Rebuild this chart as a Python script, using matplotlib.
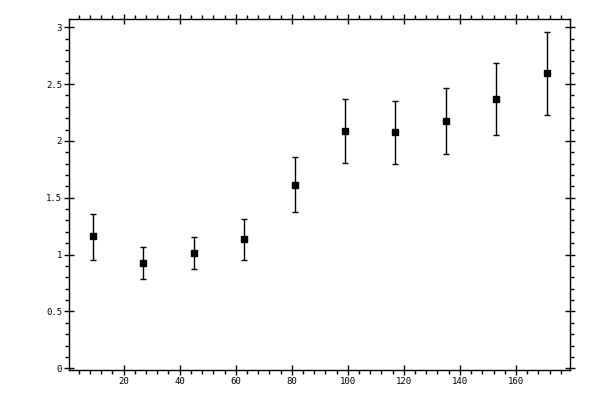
import matplotlib
matplotlib.use("Agg")
import matplotlib.pyplot as plt
from matplotlib.ticker import MultipleLocator

# values
x_vals = [9, 27, 45, 63, 81, 99, 117, 135, 153, 171]
y_vals = [1.164, 0.923, 1.011, 1.135, 1.609, 2.084, 2.076, 2.172, 2.366, 2.595]
err_low = [0.214, 0.140, 0.140, 0.185, 0.237, 0.278, 0.279, 0.290, 0.317, 0.370]
err_high = [0.196, 0.141, 0.141, 0.181, 0.247, 0.282, 0.272, 0.291, 0.317, 0.360]

fig = plt.figure(figsize=(6, 4), dpi=100)
ax = fig.add_axes([0.1155, 0.075, 0.835, 0.877])

ax.errorbar(x_vals, y_vals, yerr=[err_low, err_high], fmt="s", color="black",
            markersize=5, capsize=2.5, elinewidth=1.0, capthick=1.0)

ax.set_xlim(0.6, 179.4)
ax.set_ylim(-0.015, 3.07)

ax.xaxis.set_major_locator(MultipleLocator(20))
ax.xaxis.set_minor_locator(MultipleLocator(4))
ax.yaxis.set_major_locator(MultipleLocator(0.5))
ax.yaxis.set_minor_locator(MultipleLocator(0.1))

ax.yaxis.set_major_formatter(plt.FuncFormatter(lambda v, p: f"{v:g}"))

for s in ax.spines.values():
    s.set_linewidth(1.0)

ax.tick_params(which="major", direction="inout", length=6.5, width=1.0,
               top=True, right=True, labelsize=6.5, pad=2)
ax.tick_params(which="minor", direction="out", length=3, width=1.0,
               top=True, right=True)
for lab in ax.get_xticklabels() + ax.get_yticklabels():
    lab.set_family("DejaVu Sans Mono")

fig.savefig("out.png", dpi=100)
plt.close(fig)
